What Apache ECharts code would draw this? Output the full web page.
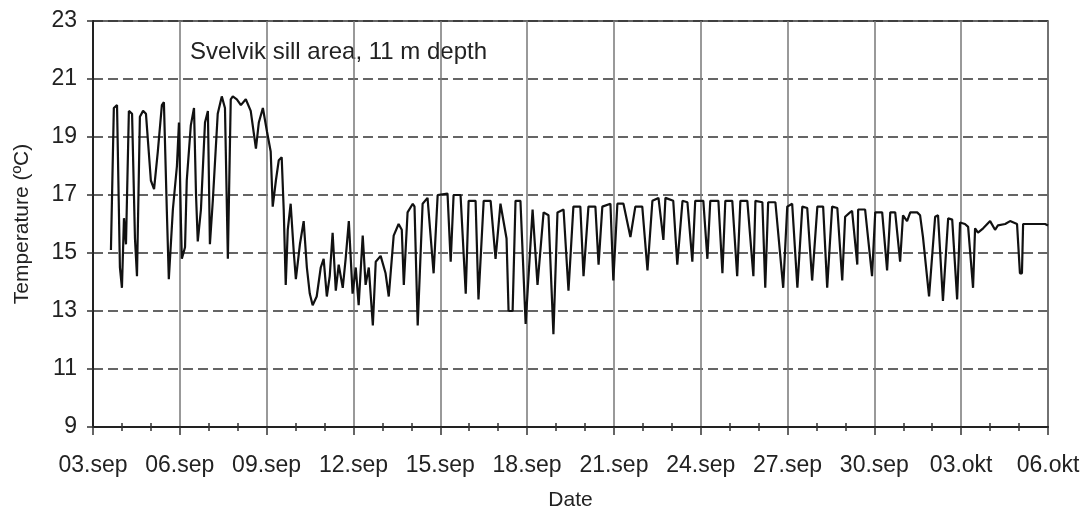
<!DOCTYPE html>
<html>
<head>
<meta charset="utf-8">
<script src="https://cdn.jsdelivr.net/npm/echarts@6/dist/echarts.min.js"></script>
<style>
html, body { margin: 0; padding: 0; background: #fff; }
#chart { width: 1084px; height: 517px; }
</style>
</head>
<body>
<div id="chart"></div>
<script>
// tick labels, one every 3 days from 03.sep
var tickLabels = ['03.sep', '06.sep', '09.sep', '12.sep', '15.sep', '18.sep',
  '21.sep', '24.sep', '27.sep', '30.sep', '03.okt', '06.okt'];

// time in days since 03.sep 00:00
var days = [
  0.62, 0.72, 0.83, 0.93, 1.00, 1.07, 1.14, 1.24, 1.35, 1.45, 1.52, 1.62, 1.73, 1.83, 2.00,
  2.11, 2.24, 2.38, 2.45, 2.55, 2.62, 2.76, 2.90, 2.97, 3.04, 3.07, 3.18, 3.24, 3.38, 3.49,
  3.56, 3.62, 3.73, 3.87, 3.97, 4.04, 4.14, 4.31, 4.45, 4.56, 4.66, 4.76, 4.83, 4.97, 5.11,
  5.28, 5.45, 5.63, 5.73, 5.87, 6.01, 6.14, 6.21, 6.32, 6.42, 6.52, 6.59, 6.66, 6.73, 6.83,
  6.94, 7.01, 7.15, 7.28, 7.39, 7.49, 7.59, 7.73, 7.87, 7.97, 8.08, 8.18, 8.28, 8.39, 8.49,
  8.63, 8.73, 8.84, 8.97, 9.08, 9.18, 9.32, 9.42, 9.53, 9.67, 9.77, 9.94, 10.11, 10.22, 10.39,
  10.56, 10.67, 10.74, 10.87, 11.05, 11.11, 11.22, 11.39, 11.56, 11.77, 11.91, 12.25, 12.36, 12.46, 12.70,
  12.88, 12.98, 13.22, 13.32, 13.50, 13.74, 13.91, 14.08, 14.29, 14.36, 14.50, 14.60, 14.77, 14.95, 15.19,
  15.36, 15.57, 15.74, 15.91, 16.05, 16.26, 16.43, 16.60, 16.84, 16.95, 17.12, 17.36, 17.47, 17.60, 17.88,
  17.98, 18.12, 18.33, 18.57, 18.74, 18.98, 19.16, 19.33, 19.54, 19.71, 19.78, 20.05, 20.19, 20.37, 20.54,
  20.71, 20.81, 21.09, 21.23, 21.33, 21.61, 21.75, 21.85, 22.09, 22.26, 22.37, 22.61, 22.82, 22.89, 23.13,
  23.23, 23.33, 23.58, 23.85, 23.99, 24.16, 24.34, 24.51, 24.68, 24.85, 25.03, 25.23, 25.37, 25.54, 25.72,
  25.89, 25.99, 26.16, 26.23, 26.41, 26.44, 26.68, 26.92, 27.03, 27.27, 27.44, 27.55, 27.72, 27.89, 27.99,
  28.13, 28.24, 28.48, 28.58, 28.68, 28.89, 29.10, 29.20, 29.37, 29.55, 29.69, 29.86, 29.96, 30.13, 30.24,
  30.41, 30.48, 30.58, 30.76, 31.00, 31.17, 31.27, 31.52, 31.69, 31.93, 32.03, 32.10, 32.14, 32.48, 32.90,
  33.00
];

// temperature (ºC) at 11 m depth
var temps = [
  15.1, 20.0, 20.1, 14.5, 13.8, 16.2, 15.3, 19.9, 19.8, 15.5, 14.2, 19.7, 19.9, 19.8, 17.5,
  17.2, 18.5, 20.1, 20.2, 16.5, 14.1, 16.5, 18.0, 19.5, 16.0, 14.8, 15.2, 17.5, 19.4, 20.0,
  17.0, 15.4, 16.5, 19.5, 19.9, 15.3, 16.8, 19.8, 20.4, 20.0, 14.8, 20.3, 20.4, 20.3, 20.1,
  20.3, 19.9, 18.6, 19.5, 20.0, 19.2, 18.5, 16.6, 17.5, 18.2, 18.3, 16.5, 13.9, 15.8, 16.7,
  15.0, 14.1, 15.3, 16.1, 14.5, 13.6, 13.2, 13.5, 14.5, 14.8, 13.5, 14.2, 15.7, 13.7, 14.6,
  13.8, 14.8, 16.1, 13.6, 14.5, 13.2, 15.6, 13.9, 14.5, 12.5, 14.7, 14.9, 14.3, 13.5, 15.6,
  16.0, 15.8, 13.9, 16.4, 16.7, 16.6, 12.5, 16.7, 16.9, 14.3, 17.0, 17.05, 14.7, 17.0, 17.0,
  13.6, 16.8, 16.8, 13.4, 16.8, 16.8, 14.8, 16.7, 15.5, 13.0, 13.0, 16.8, 16.8, 12.55, 16.5,
  13.9, 16.4, 16.3, 12.2, 16.4, 16.5, 13.7, 16.6, 16.6, 14.2, 16.6, 16.6, 14.6, 16.6, 16.7,
  14.05, 16.7, 16.7, 15.55, 16.6, 16.6, 14.4, 16.8, 16.9, 15.45, 16.9, 16.8, 14.6, 16.8, 16.75,
  14.7, 16.8, 16.8, 14.8, 16.8, 16.8, 14.3, 16.8, 16.8, 14.2, 16.8, 16.8, 14.2, 16.8, 16.75,
  13.8, 16.75, 16.75, 13.8, 16.6, 16.7, 13.8, 16.6, 16.55, 14.05, 16.6, 16.6, 13.8, 16.6, 16.55,
  14.05, 16.25, 16.4, 16.45, 14.6, 16.5, 16.5, 14.2, 16.4, 16.4, 14.4, 16.4, 16.4, 14.7, 16.3,
  16.1, 16.4, 16.4, 16.3, 15.55, 13.5, 16.25, 16.3, 13.35, 16.2, 16.15, 13.4, 16.05, 16.0, 15.9,
  13.8, 15.85, 15.7, 15.85, 16.1, 15.8, 15.95, 16.0, 16.1, 16.0, 14.3, 14.3, 16.0, 16.0, 16.0,
  15.95
];

var seriesData = days.map(function (d, i) { return [d, temps[i]]; });

var chart = echarts.init(document.getElementById('chart'), null, { renderer: 'canvas' });

var textColor = '#222';
var fontFamily = '"Liberation Sans", Arial, sans-serif';

var option = {
  animation: false,
  backgroundColor: '#fff',
  textStyle: { fontFamily: fontFamily, color: textColor },
  grid: {
    left: 93, right: 36, top: 21, bottom: 90,
    show: true,
    borderColor: '#333',
    borderWidth: 1.5
  },
  graphic: [{
    type: 'text',
    left: 190,
    top: 40,
    style: {
      text: 'Svelvik sill area, 11 m depth',
      font: '24px "Liberation Sans", Arial, sans-serif',
      fill: textColor
    }
  }],
  xAxis: [
    {
      type: 'value',
      min: 0, max: 33, interval: 3,
      name: 'Date',
      nameLocation: 'middle',
      nameGap: 63,
      nameTextStyle: { fontSize: 21, color: textColor },
      axisLine: { onZero: false, lineStyle: { color: '#222', width: 2 } },
      axisTick: { show: true, length: 8, lineStyle: { color: '#333', width: 1.5 } },
      minorTick: { show: true, splitNumber: 3, length: 4, lineStyle: { color: '#333', width: 1.5 } },
      axisLabel: {
        margin: 27,
        fontSize: 23,
        color: textColor,
        formatter: function (v) { return tickLabels[Math.round(v / 3)]; }
      },
      splitLine: { show: true, lineStyle: { color: '#777', width: 1.5 } }
    },
    {
      // second bottom axis only to draw the day ticks above the axis line
      type: 'value',
      position: 'bottom',
      min: 0, max: 33, interval: 3,
      axisLine: { show: false, onZero: false },
      axisTick: { show: false, inside: true },
      minorTick: { show: true, splitNumber: 3, length: 4, lineStyle: { color: '#333', width: 1.5 } },
      axisLabel: { show: false },
      splitLine: { show: false }
    }
  ],
  yAxis: {
    type: 'value',
    min: 9, max: 23, interval: 2,
    name: 'Temperature (ºC)',
    nameLocation: 'middle',
    nameGap: 60,
    nameTextStyle: { fontSize: 21, color: textColor },
    axisLine: { show: true, lineStyle: { color: '#222', width: 2 } },
    axisTick: { show: true, length: 6, lineStyle: { color: '#333', width: 1.5 } },
    axisLabel: { margin: 16, fontSize: 23, color: textColor },
    splitLine: { show: true, lineStyle: { color: '#333', width: 1.5, type: [10, 5] } }
  },
  series: [{
    type: 'line',
    xAxisIndex: 0,
    data: seriesData,
    showSymbol: false,
    lineStyle: { color: '#111', width: 2.2 },
    z: 5
  }]
};

chart.setOption(option);
</script>
</body>
</html>
